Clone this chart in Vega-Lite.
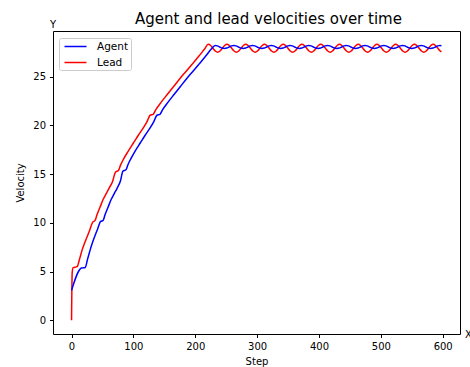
{
"$schema": "https://vega.github.io/schema/vega-lite/v6.json",
"width": 407, "height": 303,
"autosize": {"type": "none"},
"padding": {"left": 53, "top": 31, "right": 10, "bottom": 33},
"background": "white",
"config": {"font": "DejaVu Sans", "view": {"stroke": "#000", "strokeWidth": 1}},
"title": {"text": "Agent and lead velocities over time", "fontSize": 15, "fontWeight": "normal", "font": "DejaVu Sans", "color": "#000", "offset": 4, "dy": 26, "dx": 12, "baseline": "bottom", "anchor": "middle"},
"layer": [
{
"data": {"values": [
{"series":"Lead","step":0,"v":0},{"series":"Lead","step":1,"v":4.85},{"series":"Lead","step":2.5,"v":5.4},{"series":"Lead","step":9,"v":5.5},{"series":"Lead","step":13,"v":6.3},{"series":"Lead","step":17,"v":7.2},{"series":"Lead","step":21,"v":7.9},{"series":"Lead","step":25,"v":8.55},{"series":"Lead","step":29,"v":9.2},{"series":"Lead","step":34,"v":10.05},{"series":"Lead","step":38,"v":10.25},{"series":"Lead","step":41,"v":10.8},{"series":"Lead","step":46,"v":11.6},{"series":"Lead","step":51,"v":12.4},{"series":"Lead","step":56,"v":13.0},{"series":"Lead","step":61,"v":13.6},{"series":"Lead","step":66,"v":14.2},{"series":"Lead","step":71,"v":15.2},{"series":"Lead","step":76,"v":15.4},{"series":"Lead","step":79,"v":15.9},{"series":"Lead","step":84,"v":16.55},{"series":"Lead","step":92,"v":17.4},{"series":"Lead","step":100,"v":18.2},{"series":"Lead","step":108,"v":19.0},{"series":"Lead","step":116,"v":19.75},{"series":"Lead","step":122,"v":20.4},{"series":"Lead","step":127,"v":21.05},{"series":"Lead","step":132,"v":21.15},{"series":"Lead","step":136,"v":21.6},{"series":"Lead","step":145,"v":22.4},{"series":"Lead","step":155,"v":23.2},{"series":"Lead","step":165,"v":24.0},{"series":"Lead","step":175,"v":24.8},{"series":"Lead","step":185,"v":25.55},{"series":"Lead","step":195,"v":26.3},{"series":"Lead","step":205,"v":27.05},{"series":"Lead","step":215,"v":27.85},
{"series":"Lead","step":221.0,"v":28.33},{"series":"Lead","step":224.8,"v":28.21},{"series":"Lead","step":228.6,"v":27.93},{"series":"Lead","step":232.4,"v":27.65},{"series":"Lead","step":236.2,"v":27.53},{"series":"Lead","step":239.9,"v":27.65},{"series":"Lead","step":243.7,"v":27.93},{"series":"Lead","step":247.5,"v":28.21},
{"series":"Lead","step":251.3,"v":28.33},{"series":"Lead","step":255.1,"v":28.21},{"series":"Lead","step":258.9,"v":27.93},{"series":"Lead","step":262.7,"v":27.65},{"series":"Lead","step":266.5,"v":27.53},{"series":"Lead","step":270.3,"v":27.65},{"series":"Lead","step":274.1,"v":27.93},{"series":"Lead","step":277.8,"v":28.21},
{"series":"Lead","step":281.6,"v":28.33},{"series":"Lead","step":285.4,"v":28.21},{"series":"Lead","step":289.2,"v":27.93},{"series":"Lead","step":293.0,"v":27.65},{"series":"Lead","step":296.8,"v":27.53},{"series":"Lead","step":300.6,"v":27.65},{"series":"Lead","step":304.4,"v":27.93},{"series":"Lead","step":308.2,"v":28.21},
{"series":"Lead","step":311.9,"v":28.33},{"series":"Lead","step":315.7,"v":28.21},{"series":"Lead","step":319.5,"v":27.93},{"series":"Lead","step":323.3,"v":27.65},{"series":"Lead","step":327.1,"v":27.53},{"series":"Lead","step":330.9,"v":27.65},{"series":"Lead","step":334.7,"v":27.93},{"series":"Lead","step":338.5,"v":28.21},
{"series":"Lead","step":342.2,"v":28.33},{"series":"Lead","step":346.0,"v":28.21},{"series":"Lead","step":349.8,"v":27.93},{"series":"Lead","step":353.6,"v":27.65},{"series":"Lead","step":357.4,"v":27.53},{"series":"Lead","step":361.2,"v":27.65},{"series":"Lead","step":365.0,"v":27.93},{"series":"Lead","step":368.8,"v":28.21},
{"series":"Lead","step":372.5,"v":28.33},{"series":"Lead","step":376.3,"v":28.21},{"series":"Lead","step":380.1,"v":27.93},{"series":"Lead","step":383.9,"v":27.65},{"series":"Lead","step":387.7,"v":27.53},{"series":"Lead","step":391.5,"v":27.65},{"series":"Lead","step":395.3,"v":27.93},{"series":"Lead","step":399.1,"v":28.21},
{"series":"Lead","step":402.8,"v":28.33},{"series":"Lead","step":406.6,"v":28.21},{"series":"Lead","step":410.4,"v":27.93},{"series":"Lead","step":414.2,"v":27.65},{"series":"Lead","step":418.0,"v":27.53},{"series":"Lead","step":421.8,"v":27.65},{"series":"Lead","step":425.6,"v":27.93},{"series":"Lead","step":429.4,"v":28.21},
{"series":"Lead","step":433.1,"v":28.33},{"series":"Lead","step":436.9,"v":28.21},{"series":"Lead","step":440.7,"v":27.93},{"series":"Lead","step":444.5,"v":27.65},{"series":"Lead","step":448.3,"v":27.53},{"series":"Lead","step":452.1,"v":27.65},{"series":"Lead","step":455.9,"v":27.93},{"series":"Lead","step":459.7,"v":28.21},
{"series":"Lead","step":463.4,"v":28.33},{"series":"Lead","step":467.2,"v":28.21},{"series":"Lead","step":471.0,"v":27.93},{"series":"Lead","step":474.8,"v":27.65},{"series":"Lead","step":478.6,"v":27.53},{"series":"Lead","step":482.4,"v":27.65},{"series":"Lead","step":486.2,"v":27.93},{"series":"Lead","step":490.0,"v":28.21},
{"series":"Lead","step":493.7,"v":28.33},{"series":"Lead","step":497.5,"v":28.21},{"series":"Lead","step":501.3,"v":27.93},{"series":"Lead","step":505.1,"v":27.65},{"series":"Lead","step":508.9,"v":27.53},{"series":"Lead","step":512.7,"v":27.65},{"series":"Lead","step":516.5,"v":27.93},{"series":"Lead","step":520.3,"v":28.21},
{"series":"Lead","step":524.0,"v":28.33},{"series":"Lead","step":527.8,"v":28.21},{"series":"Lead","step":531.6,"v":27.93},{"series":"Lead","step":535.4,"v":27.65},{"series":"Lead","step":539.2,"v":27.53},{"series":"Lead","step":543.0,"v":27.65},{"series":"Lead","step":546.8,"v":27.93},{"series":"Lead","step":550.6,"v":28.21},
{"series":"Lead","step":554.3,"v":28.33},{"series":"Lead","step":558.1,"v":28.21},{"series":"Lead","step":561.9,"v":27.93},{"series":"Lead","step":565.7,"v":27.65},{"series":"Lead","step":569.5,"v":27.53},{"series":"Lead","step":573.3,"v":27.65},{"series":"Lead","step":577.1,"v":27.93},{"series":"Lead","step":580.9,"v":28.21},
{"series":"Lead","step":584.6,"v":28.33},{"series":"Lead","step":588.4,"v":28.21},{"series":"Lead","step":592.2,"v":27.93},{"series":"Lead","step":596.0,"v":27.65},{"series":"Lead","step":598.0,"v":27.57},
{"series":"Agent","step":0,"v":3.07},{"series":"Agent","step":16,"v":5.36},{"series":"Agent","step":22,"v":5.42},{"series":"Agent","step":26,"v":6.3},{"series":"Agent","step":30,"v":7.2},{"series":"Agent","step":34,"v":8.0},{"series":"Agent","step":38,"v":8.7},{"series":"Agent","step":42,"v":9.35},{"series":"Agent","step":47,"v":10.15},{"series":"Agent","step":51,"v":10.25},{"series":"Agent","step":54,"v":10.8},{"series":"Agent","step":59,"v":11.6},{"series":"Agent","step":64,"v":12.4},{"series":"Agent","step":69,"v":13.0},{"series":"Agent","step":74,"v":13.6},{"series":"Agent","step":79,"v":14.3},{"series":"Agent","step":83,"v":15.3},{"series":"Agent","step":88,"v":15.45},{"series":"Agent","step":91,"v":15.95},{"series":"Agent","step":96,"v":16.6},{"series":"Agent","step":103,"v":17.4},{"series":"Agent","step":111,"v":18.2},{"series":"Agent","step":119,"v":19.0},{"series":"Agent","step":127,"v":19.75},{"series":"Agent","step":133,"v":20.4},{"series":"Agent","step":138,"v":21.05},{"series":"Agent","step":143,"v":21.15},{"series":"Agent","step":147,"v":21.6},{"series":"Agent","step":156,"v":22.4},{"series":"Agent","step":166,"v":23.2},{"series":"Agent","step":176,"v":24.0},{"series":"Agent","step":186,"v":24.8},{"series":"Agent","step":196,"v":25.55},{"series":"Agent","step":206,"v":26.3},{"series":"Agent","step":216,"v":27.05},{"series":"Agent","step":226,"v":27.85},
{"series":"Agent","step":232.0,"v":28.21},{"series":"Agent","step":235.8,"v":28.17},{"series":"Agent","step":239.6,"v":28.06},{"series":"Agent","step":243.4,"v":27.95},{"series":"Agent","step":247.2,"v":27.91},{"series":"Agent","step":250.9,"v":27.95},{"series":"Agent","step":254.7,"v":28.06},{"series":"Agent","step":258.5,"v":28.17},
{"series":"Agent","step":262.3,"v":28.21},{"series":"Agent","step":266.1,"v":28.17},{"series":"Agent","step":269.9,"v":28.06},{"series":"Agent","step":273.7,"v":27.95},{"series":"Agent","step":277.5,"v":27.91},{"series":"Agent","step":281.3,"v":27.95},{"series":"Agent","step":285.1,"v":28.06},{"series":"Agent","step":288.8,"v":28.17},
{"series":"Agent","step":292.6,"v":28.21},{"series":"Agent","step":296.4,"v":28.17},{"series":"Agent","step":300.2,"v":28.06},{"series":"Agent","step":304.0,"v":27.95},{"series":"Agent","step":307.8,"v":27.91},{"series":"Agent","step":311.6,"v":27.95},{"series":"Agent","step":315.4,"v":28.06},{"series":"Agent","step":319.2,"v":28.17},
{"series":"Agent","step":322.9,"v":28.21},{"series":"Agent","step":326.7,"v":28.17},{"series":"Agent","step":330.5,"v":28.06},{"series":"Agent","step":334.3,"v":27.95},{"series":"Agent","step":338.1,"v":27.91},{"series":"Agent","step":341.9,"v":27.95},{"series":"Agent","step":345.7,"v":28.06},{"series":"Agent","step":349.5,"v":28.17},
{"series":"Agent","step":353.2,"v":28.21},{"series":"Agent","step":357.0,"v":28.17},{"series":"Agent","step":360.8,"v":28.06},{"series":"Agent","step":364.6,"v":27.95},{"series":"Agent","step":368.4,"v":27.91},{"series":"Agent","step":372.2,"v":27.95},{"series":"Agent","step":376.0,"v":28.06},{"series":"Agent","step":379.8,"v":28.17},
{"series":"Agent","step":383.5,"v":28.21},{"series":"Agent","step":387.3,"v":28.17},{"series":"Agent","step":391.1,"v":28.06},{"series":"Agent","step":394.9,"v":27.95},{"series":"Agent","step":398.7,"v":27.91},{"series":"Agent","step":402.5,"v":27.95},{"series":"Agent","step":406.3,"v":28.06},{"series":"Agent","step":410.1,"v":28.17},
{"series":"Agent","step":413.8,"v":28.21},{"series":"Agent","step":417.6,"v":28.17},{"series":"Agent","step":421.4,"v":28.06},{"series":"Agent","step":425.2,"v":27.95},{"series":"Agent","step":429.0,"v":27.91},{"series":"Agent","step":432.8,"v":27.95},{"series":"Agent","step":436.6,"v":28.06},{"series":"Agent","step":440.4,"v":28.17},
{"series":"Agent","step":444.1,"v":28.21},{"series":"Agent","step":447.9,"v":28.17},{"series":"Agent","step":451.7,"v":28.06},{"series":"Agent","step":455.5,"v":27.95},{"series":"Agent","step":459.3,"v":27.91},{"series":"Agent","step":463.1,"v":27.95},{"series":"Agent","step":466.9,"v":28.06},{"series":"Agent","step":470.7,"v":28.17},
{"series":"Agent","step":474.4,"v":28.21},{"series":"Agent","step":478.2,"v":28.17},{"series":"Agent","step":482.0,"v":28.06},{"series":"Agent","step":485.8,"v":27.95},{"series":"Agent","step":489.6,"v":27.91},{"series":"Agent","step":493.4,"v":27.95},{"series":"Agent","step":497.2,"v":28.06},{"series":"Agent","step":501.0,"v":28.17},
{"series":"Agent","step":504.7,"v":28.21},{"series":"Agent","step":508.5,"v":28.17},{"series":"Agent","step":512.3,"v":28.06},{"series":"Agent","step":516.1,"v":27.95},{"series":"Agent","step":519.9,"v":27.91},{"series":"Agent","step":523.7,"v":27.95},{"series":"Agent","step":527.5,"v":28.06},{"series":"Agent","step":531.3,"v":28.17},
{"series":"Agent","step":535.0,"v":28.21},{"series":"Agent","step":538.8,"v":28.17},{"series":"Agent","step":542.6,"v":28.06},{"series":"Agent","step":546.4,"v":27.95},{"series":"Agent","step":550.2,"v":27.91},{"series":"Agent","step":554.0,"v":27.95},{"series":"Agent","step":557.8,"v":28.06},{"series":"Agent","step":561.6,"v":28.17},
{"series":"Agent","step":565.3,"v":28.21},{"series":"Agent","step":569.1,"v":28.17},{"series":"Agent","step":572.9,"v":28.06},{"series":"Agent","step":576.7,"v":27.95},{"series":"Agent","step":580.5,"v":27.91},{"series":"Agent","step":584.3,"v":27.95},{"series":"Agent","step":588.1,"v":28.06},{"series":"Agent","step":591.9,"v":28.17},
{"series":"Agent","step":595.6,"v":28.21},{"series":"Agent","step":598.0,"v":28.19}
]},
"mark": {"type": "line", "strokeWidth": 1.5, "interpolate": "monotone"},
"encoding": {
"x": {"field": "step", "type": "quantitative", "scale": {"domain": [-30, 628], "nice": false, "zero": false},
 "axis": {"values": [0,100,200,300,400,500,600], "title": "Step", "titleFontSize": 10, "titleFontWeight": "normal", "titleColor": "#000", "labelFontSize": 10, "labelColor": "#000", "tickColor": "#000", "tickSize": 3.5, "labelPadding": 4, "titlePadding": 5, "domain": false, "grid": false}},
"y": {"field": "v", "type": "quantitative", "scale": {"domain": [-1.41, 29.7], "nice": false, "zero": false},
 "axis": {"values": [0,5,10,15,20,25], "title": "Velocity", "titleFontSize": 10, "titleFontWeight": "normal", "titleColor": "#000", "labelFontSize": 10, "labelColor": "#000", "tickColor": "#000", "tickSize": 3.5, "labelPadding": 4, "titlePadding": 7, "domain": false, "grid": false}},
"color": {"field": "series", "type": "nominal", "scale": {"domain": ["Agent", "Lead"], "range": ["#0000ff", "#ff0000"]},
 "legend": {"orient": "none", "legendX": 6, "legendY": 7, "title": null, "symbolType": "M-2,0H2", "symbolStrokeWidth": 1.5, "symbolSize": 121, "symbolOffset": 8, "labelFontSize": 10.5, "labelColor": "#000", "strokeColor": "#cccccc", "fillColor": "rgba(255,255,255,0.8)", "padding": 2, "cornerRadius": 2, "rowPadding": 4, "labelOffset": 15}}
}
},
{
"data": {"values": [{}]},
"mark": {"type": "text", "text": "Y", "fontSize": 10, "align": "center", "baseline": "alphabetic", "dy": -3, "color": "#000"},
"encoding": {"x": {"datum": -30}, "y": {"datum": 29.7}}
},
{
"data": {"values": [{}]},
"mark": {"type": "text", "text": "X", "fontSize": 10, "align": "left", "baseline": "alphabetic", "dx": 5, "dy": 3.5, "color": "#000"},
"encoding": {"x": {"datum": 628}, "y": {"datum": -1.41}}
}
]
}
